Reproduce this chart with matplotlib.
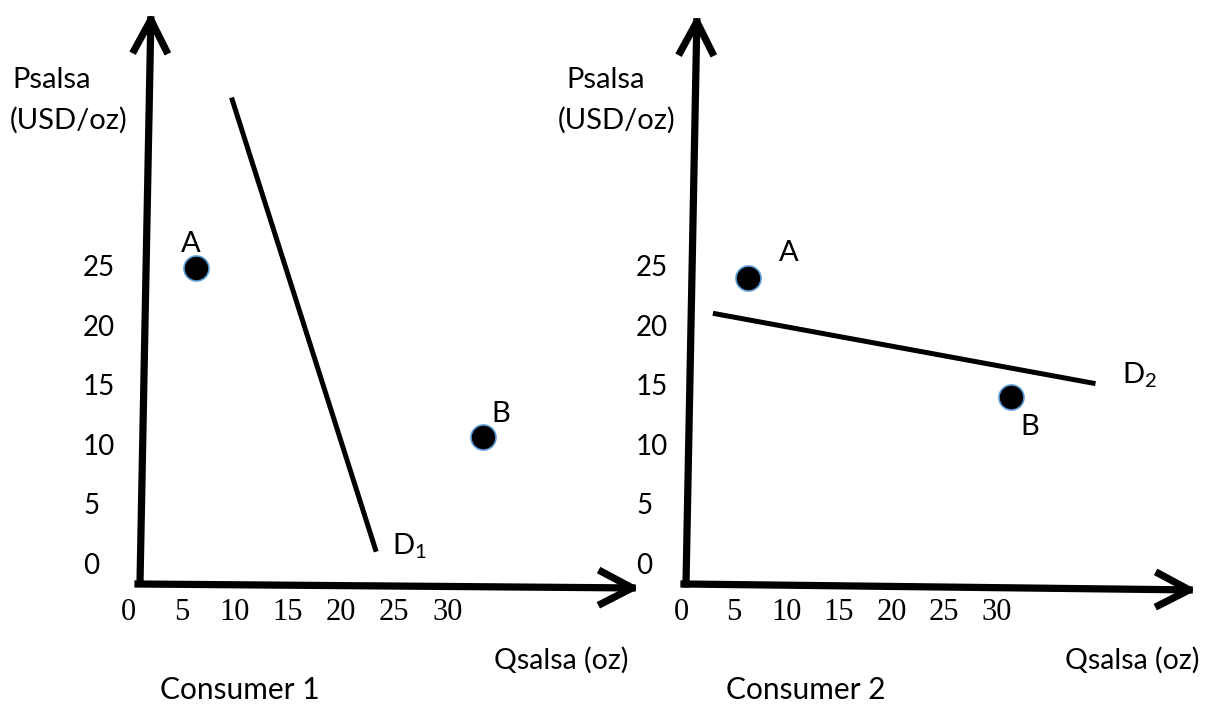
import numpy as np
import matplotlib
matplotlib.use('agg')
import matplotlib.pyplot as plt

plt.rcParams['font.family'] = ['Lato', 'DejaVu Sans']
plt.rcParams['mathtext.fontset'] = 'custom'
plt.rcParams['mathtext.rm'] = 'Lato'

#tick values shown on both panels
q_ticks = [0, 5, 10, 15, 20, 25, 30]
p_ticks = [0, 5, 10, 15, 20, 25]

#consumer 1: points and demand line (quantity, price)
c1_points = ['A', 'B']
c1_q = [6.4, 33.3]
c1_p = [25.0, 10.8]
c1_demand_q = [9.7, 23.3]
c1_demand_p = [39.3, 1.2]

#consumer 2
c2_points = ['A', 'B']
c2_q = [6.3, 31.4]
c2_p = [24.2, 14.2]
c2_demand_q = [3.0, 39.4]
c2_demand_p = [21.2, 15.3]

W, H = 1209, 707
fig = plt.figure(figsize=(W / 100, H / 100), dpi=100)

#make an axes over a pixel strip, with given pixel origin and px-per-unit scale
def make_panel(left, right, x0, xs, y0, ys):
	ax = fig.add_axes([left / W, 0, (right - left) / W, 1])
	ax.set_xlim((left - x0) / xs, (right - x0) / xs)
	ax.set_ylim((y0 - H) / ys, y0 / ys)
	ax.axis('off')
	return ax
#end make_panel

ax_all = fig.add_axes([0, 0, 1, 1])
ax_all.axis('off')

#draw an axis arrow in figure pixels (y measured from top)
def axis_arrow(p_from, p_to):
	ax_all.annotate('', xy=(p_to[0], H - p_to[1]), xycoords='figure pixels',
		xytext=(p_from[0], H - p_from[1]), textcoords='figure pixels',
		arrowprops=dict(arrowstyle='->,head_length=2.2,head_width=1.15', lw=5.2,
			color='black', shrinkA=0, shrinkB=0, capstyle='projecting'))
#end axis_arrow

panels = [
	(make_panel(0, 604, 128.3, 10.64, 566, 11.92), c1_points, c1_q, c1_p, c1_demand_q, c1_demand_p, 'D$_\\mathrm{1}$'),
	(make_panel(604, 1209, 681.4, 10.51, 566, 11.92), c2_points, c2_q, c2_p, c2_demand_q, c2_demand_p, 'D$_\\mathrm{2}$'),
]

#label offsets in points for the point letters and demand label
pt_offsets = [[(-4, 17), (13, 17)], [(30, 18), (13, -22)]]
d_offsets = [(24, 4), (32, 6)]

for i, (ax, names, qs, ps, dq, dp, dlabel) in enumerate(panels):
	ax.plot(dq, dp, color='black', lw=3.6, solid_capstyle='butt')
	ax.plot(qs, ps, 'o', ms=18, mfc='black', mec='#5B9BD5', mew=1.2)
	for j, name in enumerate(names):
		ax.annotate(name, (qs[j], ps[j]), xytext=pt_offsets[i][j], textcoords='offset points',
			ha='center', va='center', fontsize=21)
	ax.annotate(dlabel, (dq[1], dp[1]), xytext=d_offsets[i], textcoords='offset points',
		ha='center', va='center', fontsize=21)
	#tick labels
	for v in q_ticks:
		ax.text(v, -3.94, str(v), ha='center', va='center', fontsize=22, family='Liberation Serif')
	xl = -4.26 if i == 0 else -4.32
	for v in p_ticks:
		ax.text(xl, v, str(v), ha='left', va='center', fontsize=20)

#axis arrows (pixel layout of the hand drawn axes)
axis_arrow((140, 583), (151, 12))
axis_arrow((138, 584), (640, 588))
axis_arrow((686, 584), (697, 14))
axis_arrow((684, 584), (1197, 590))

#axis names and panel titles
def ftext(x, y, s, size=21, **kw):
	fig.text(x / W, 1 - y / H, s, fontsize=size, va='center', **kw)

ftext(12, 80, 'Psalsa', ha='left')
ftext(10, 120, '(USD/oz)', ha='left')
ftext(566, 80, 'Psalsa', ha='left')
ftext(558, 120, '(USD/oz)', ha='left')
ftext(628, 660, 'Qsalsa (oz)', size=20.5, ha='right')
ftext(1199, 660, 'Qsalsa (oz)', size=20.5, ha='right')
ftext(240, 690, 'Consumer 1', size=21.5, ha='center')
ftext(806, 690, 'Consumer 2', size=21.5, ha='center')

plt.savefig('out.png', dpi=100)
